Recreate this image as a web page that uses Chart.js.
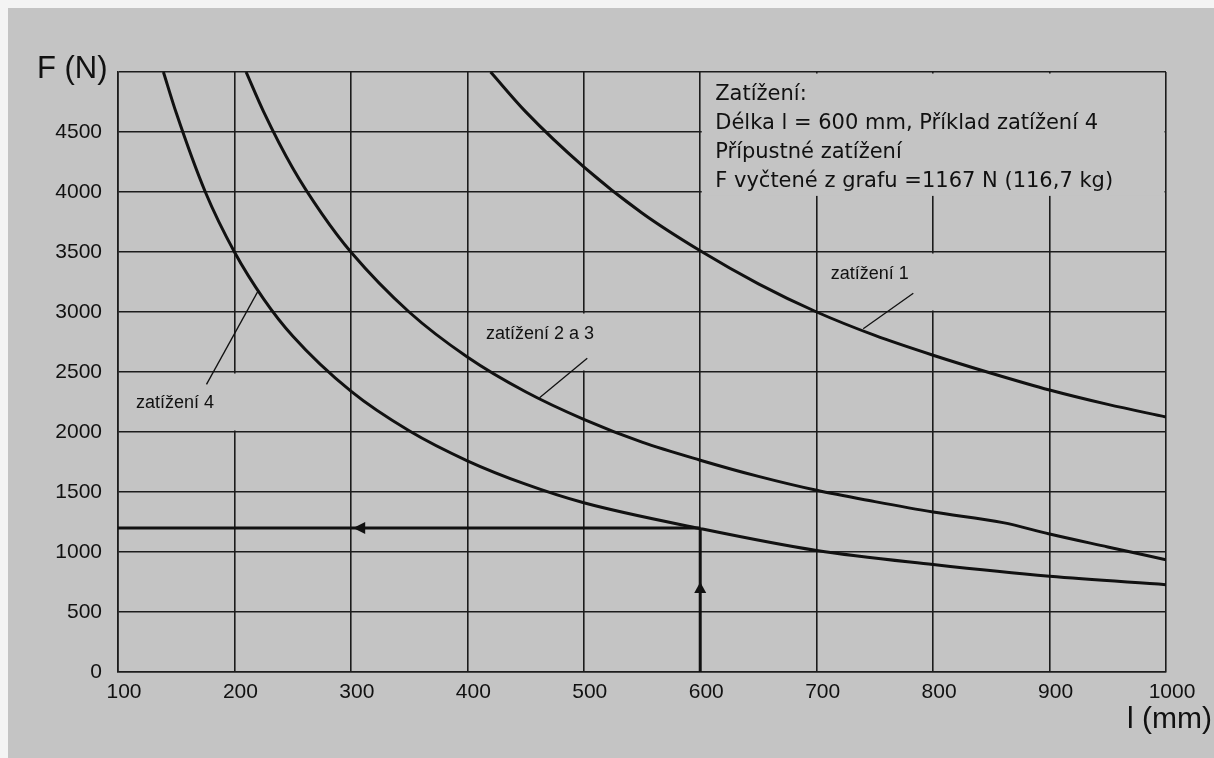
<!DOCTYPE html>
<html>
<head>
<meta charset="utf-8">
<script src="https://cdn.jsdelivr.net/npm/chart.js@4.4.1/dist/chart.umd.min.js"></script>
<style>
  html, body { margin: 0; padding: 0; background: #f4f4f4; }
  #sheet { position: absolute; left: 8px; top: 8px; width: 1206px; height: 750px; background: #c4c4c4; }
  canvas { display: block; }
</style>
</head>
<body>
<div id="sheet"><canvas id="loadChart" width="1206" height="750"></canvas></div>
<script>
/* Load diagram F (N) over length l (mm) */

// Curve "zatížení 1"
const l1 = [420, 450, 500, 550, 600, 650, 700, 750, 800, 850, 900, 950, 1000];
const f1 = [5000, 4670, 4210, 3825, 3510, 3235, 3000, 2805, 2640, 2490, 2350, 2230, 2125];

// Curve "zatížení 2 a 3"
const l23 = [210, 225, 250, 275, 300, 350, 400, 450, 500, 550, 600, 650, 700, 750, 800, 860, 900, 950, 1000];
const f23 = [5000, 4670, 4200, 3820, 3500, 3000, 2625, 2335, 2105, 1915, 1765, 1630, 1514, 1420, 1333, 1245, 1150, 1042, 935];

// Curve "zatížení 4"
const l4 = [139, 150, 175, 200, 225, 250, 300, 350, 400, 450, 500, 600, 700, 800, 900, 1000];
const f4 = [5000, 4660, 4000, 3500, 3110, 2800, 2340, 2010, 1760, 1565, 1410, 1195, 1012, 895, 797, 728];

// Reading example: l = 600 mm -> F
const readL = [100, 600];
const readF = [1200, 1200];
const readBase = [0, 1200];

// Axis ticks
const xTicks = [100, 200, 300, 400, 500, 600, 700, 800, 900, 1000];
const yTicks = ['0', '500', '1000', '1500', '2000', '2500', '3000', '3500', '4000', '4500', ''];

const curveLabels = ['zatížení 1', 'zatížení 2 a 3', 'zatížení 4'];
const boxLines = [
  'Zatížení:',
  'Délka l = 600 mm, Příklad zatížení 4',
  'Přípustné zatížení',
  'F vyčtené z grafu =1167 N (116,7 kg)'
];

const INK = '#111111';
const GRID = '#1c1c1c';
const PAPER = '#c4c4c4';
const FONT = '"Liberation Sans", Arial, sans-serif';
const WIDE = '"DejaVu Sans", sans-serif';

function toPoints(xs, ys) {
  return xs.map((x, i) => ({ x: x, y: ys[i] }));
}

function curve(label, xs, ys) {
  return {
    label: label,
    data: toPoints(xs, ys),
    borderColor: INK,
    borderWidth: 3,
    pointRadius: 0,
    cubicInterpolationMode: 'monotone',
    fill: false
  };
}

function straight(label, data) {
  return {
    label: label,
    data: data,
    borderColor: INK,
    borderWidth: 3,
    pointRadius: 0,
    tension: 0,
    fill: false
  };
}

// Cells behind the labels where the grid is blanked out (data coords)
const blankCells = [
  { x0: 600, x1: 1000, y0: 3955, y1: 5000 },
  { x0: 100, x1: 300, y0: 2000, y1: 2500 },
  { x0: 400, x1: 600, y0: 2500, y1: 3000 },
  { x0: 700, x1: 900, y0: 3000, y1: 3500 }
];

const annotate = {
  id: 'annotate',
  beforeDatasetsDraw(chart) {
    const ctx = chart.ctx;
    const xs = chart.scales.x, ys = chart.scales.y;
    ctx.save();
    ctx.fillStyle = PAPER;
    blankCells.forEach(c => {
      const left = xs.getPixelForValue(c.x0) + 1.5;
      const right = xs.getPixelForValue(c.x1) - 1.5;
      const top = ys.getPixelForValue(c.y1) + 1.5;
      const bottom = ys.getPixelForValue(c.y0) - 1.5;
      ctx.fillRect(left, top, right - left, bottom - top);
    });
    ctx.restore();
  },
  afterDatasetsDraw(chart) {
    const ctx = chart.ctx;
    const xs = chart.scales.x, ys = chart.scales.y;
    const px = v => xs.getPixelForValue(v);
    const py = v => ys.getPixelForValue(v);
    ctx.save();

    // leader lines from labels to curves
    ctx.strokeStyle = INK;
    ctx.lineWidth = 1.3;
    [[783, 3156, 740, 2860], [503, 2614, 462, 2285], [176, 2397, 220, 3170]].forEach(s => {
      ctx.beginPath();
      ctx.moveTo(px(s[0]), py(s[1]));
      ctx.lineTo(px(s[2]), py(s[3]));
      ctx.stroke();
    });

    // curve labels
    ctx.fillStyle = INK;
    ctx.font = '18px ' + FONT;
    ctx.textBaseline = 'alphabetic';
    ctx.fillText(curveLabels[0], px(712), py(3273));
    ctx.fillText(curveLabels[1], px(416), py(2773));
    ctx.fillText(curveLabels[2], px(115.5), py(2197));

    // info box text
    ctx.font = '21px ' + WIDE;
    boxLines.forEach((t, i) => {
      ctx.fillText(t, px(600) + 15, py(5000) + 28 + i * 29);
    });

    // arrow heads
    const hx = px(302), hy = py(readF[0]);
    ctx.beginPath();
    ctx.moveTo(hx, hy);
    ctx.lineTo(hx + 12, hy - 6);
    ctx.lineTo(hx + 12, hy + 6);
    ctx.closePath();
    ctx.fill();
    const vx = px(readL[1]), vy = py(750);
    ctx.beginPath();
    ctx.moveTo(vx, vy);
    ctx.lineTo(vx - 6, vy + 11);
    ctx.lineTo(vx + 6, vy + 11);
    ctx.closePath();
    ctx.fill();

    ctx.restore();
  },
  afterDraw(chart) {
    const ctx = chart.ctx;
    ctx.save();
    ctx.fillStyle = INK;
    ctx.font = '31px ' + FONT;
    ctx.fillText('F (N)', 29, 70);
    ctx.font = '30px ' + FONT;
    ctx.fillText('l (mm)', 1119, 720);
    ctx.restore();
  }
};

const ctx = document.getElementById('loadChart').getContext('2d');
new Chart(ctx, {
  type: 'line',
  data: {
    datasets: [
      curve(curveLabels[0], l1, f1),
      curve(curveLabels[1], l23, f23),
      curve(curveLabels[2], l4, f4),
      straight('read F', toPoints(readL, readF)),
      straight('read l', toPoints([readL[1], readL[1]], readBase))
    ]
  },
  options: {
    responsive: false,
    animation: false,
    layout: { padding: { left: 0, right: 48, top: 64, bottom: 0 } },
    plugins: {
      legend: { display: false },
      tooltip: { enabled: false }
    },
    scales: {
      x: {
        type: 'linear',
        min: 100,
        max: 1000,
        afterFit: s => { s.height = 86; },
        afterBuildTicks: s => { s.ticks = xTicks.map(v => ({ value: v })); },
        grid: { color: GRID, lineWidth: 1.6, drawTicks: false },
        border: { color: GRID, width: 1.6 },
        ticks: {
          color: INK,
          padding: 8,
          labelOffset: 6,
          maxRotation: 0,
          font: { family: FONT, size: 21 },
          callback: v => String(v)
        }
      },
      y: {
        type: 'linear',
        min: 0,
        max: 5000,
        afterFit: s => { s.width = 110; },
        grid: { color: GRID, lineWidth: 1.6, drawTicks: false },
        border: { color: GRID, width: 1.6 },
        ticks: {
          stepSize: 500,
          color: INK,
          padding: 16,
          font: { family: FONT, size: 21 },
          callback: (v, i) => yTicks[i]
        }
      }
    }
  },
  plugins: [annotate]
});
</script>
</body>
</html>
